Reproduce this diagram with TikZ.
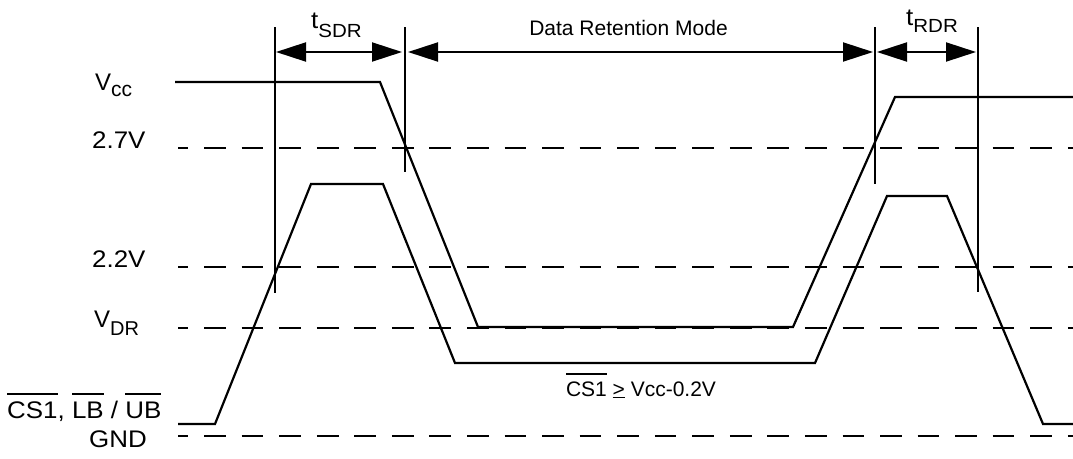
\documentclass[tikz,border=0pt]{standalone}
\usepackage{graphicx}
\usepackage{fontspec}
\setmainfont{Liberation Sans}
\usetikzlibrary{arrows.meta}
\newcommand\ovl[1]{\leavevmode\vbox{\hrule height 1.6pt \kern 6.5pt \hbox{#1}}}
\newcommand\wid[1]{\scalebox{1.08}[1]{#1}}
\newcommand\sbs[3]{\raisebox{-#1pt}{\fontsize{#2}{#2}\selectfont #3}}
\begin{document}
\begin{tikzpicture}[x=1pt,y=-1pt,
  lbl/.style={anchor=base, inner sep=0pt, font=\fontsize{21}{25}\selectfont},
  side/.style={anchor=base west, inner sep=0pt, font=\fontsize{24}{28}\selectfont},
  tim/.style={anchor=base west, inner sep=0pt, font=\fontsize{24}{28}\selectfont},
  trace/.style={line width=2.2pt, line join=miter},
  refline/.style={line width=2pt, dash pattern=on 21.7pt off 15.85pt, dash phase=11.4pt},
  marker/.style={line width=2pt},
  dim/.style={line width=2pt, {Triangle[length=30pt,width=19pt]}-{Triangle[length=30pt,width=19pt]}}]
\useasboundingbox (0,0) rectangle (1073,458);

% reference levels (dashed)
\coordinate (l27a) at (178,148);  \coordinate (l27b) at (1073,148);
\coordinate (l22a) at (178,267);  \coordinate (l22b) at (1073,267);
\coordinate (ldra) at (178,328);  \coordinate (ldrb) at (1073,328);
\coordinate (lgna) at (178,436);  \coordinate (lgnb) at (1073,436);
\draw[refline] (l27a) -- (l27b);
\draw[refline] (l22a) -- (l22b);
\draw[refline] (ldra) -- (ldrb);
\draw[refline] (lgna) -- (lgnb);

% Vcc trace
\draw[trace] (175,82) -- (380,82) -- (478,327) -- (793,327) -- (895,97) -- (1073,97);
% CS1 / LB / UB trace
\draw[trace] (178,424) -- (215,424) -- (311,184) -- (383,184) -- (455,363)
  -- (815,363) -- (887,196) -- (947,196) -- (1043,424) -- (1073,424);

% timing markers
\coordinate (m1t) at (275,27);  \coordinate (m1b) at (275,293);
\coordinate (m2t) at (405,27);  \coordinate (m2b) at (405,172);
\coordinate (m3t) at (875,27);  \coordinate (m3b) at (875,184);
\coordinate (m4t) at (978,27);  \coordinate (m4b) at (978,292);
\draw[marker] (m1t) -- (m1b);
\draw[marker] (m2t) -- (m2b);
\draw[marker] (m3t) -- (m3b);
\draw[marker] (m4t) -- (m4b);

% dimension arrows
\coordinate (a1) at (276,52);  \coordinate (a2) at (402,52);
\coordinate (a3) at (408,52);  \coordinate (a4) at (873,52);
\coordinate (a5) at (877,52);  \coordinate (a6) at (976,52);
\draw[dim] (a1) -- (a2);
\draw[dim] (a3) -- (a4);
\draw[dim] (a5) -- (a6);

% labels
\node[tim] (tsdr) at (311,28) {\wid{t\sbs{9}{19}{SDR}}};
\node[lbl] (drm) at (628.5,35) {Data Retention Mode};
\node[tim] (trdr) at (906,25) {\wid{t\sbs{7}{19}{RDR}}};
\node[side] (vcc) at (95,90) {V\sbs{6}{21}{cc}};
\node[side] (v27) at (92,148) {\wid{2.7V}};
\node[side] (v22) at (92,267) {\wid{2.2V}};
\node[side] (vdr) at (94,327) {V\sbs{8}{20}{DR}};
\node[side] (cs) at (7,418) {\wid{\ovl{CS1}, \ovl{LB} / \ovl{UB}}};
\node[side] (gnd) at (89,447) {\wid{GND}};
\node[lbl] (cond) at (641,396) {\ovl{CS1} \underline{>} Vcc-0.2V};
\end{tikzpicture}
\end{document}
